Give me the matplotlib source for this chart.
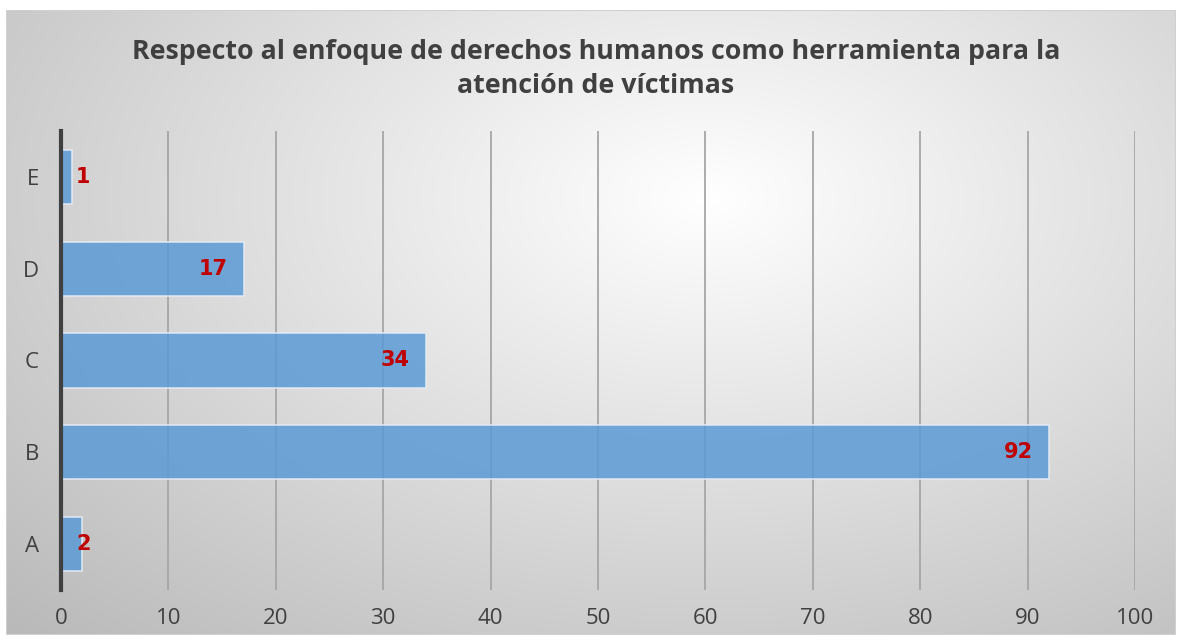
import numpy as np
import matplotlib

matplotlib.use("Agg")
import matplotlib.pyplot as plt
from matplotlib.patches import Rectangle

CATEGORIES = ["A", "B", "C", "D", "E"]
VALUES = [2, 92, 34, 17, 1]
X_TICKS = [0, 10, 20, 30, 40, 50, 60, 70, 80, 90, 100]
TITLE = "Respecto al enfoque de derechos humanos como herramienta para la\natención de víctimas"

BAR_COLOR = "#5b9bd5"
LABEL_COLOR = "#c00000"
TEXT_COLOR = "#404040"
GRID_COLOR = "#a6a6a6"

W, H = 1180, 643


def draw_background(fig):
    # chart frame with a soft radial gradient, like the Office style
    x0, y0, x1, y1 = 6, 10, 1176, 635
    bg = fig.add_axes([x0 / W, 1 - y1 / H, (x1 - x0) / W, (y1 - y0) / H])
    gx, gy = np.meshgrid(np.linspace(0, 1, 400), np.linspace(0, 1, 220))
    r = np.sqrt(((gx - 0.6) / 0.75) ** 2 + ((gy - 0.3) / 0.85) ** 2)
    shade = 1.0 - 0.24 * np.clip(r, 0, 1.15)
    rgb = np.dstack([shade, shade, shade])
    bg.imshow(rgb, extent=(0, 1, 0, 1), origin="upper", aspect="auto")
    bg.add_patch(Rectangle((0, 0), 1, 1, fill=False, edgecolor="#d0d0d0",
                           linewidth=1.5, transform=bg.transAxes))
    bg.set_axis_off()
    return bg


def main():
    fig = plt.figure(figsize=(W / 100, H / 100), dpi=100)
    fig.patch.set_facecolor("white")
    draw_background(fig)

    ax = fig.add_axes([61 / W, 1 - 590 / H, (1135 - 61) / W, (590 - 131) / H])
    ax.set_facecolor("none")

    pos = np.arange(len(CATEGORIES))
    ax.barh(pos, VALUES, height=0.59, color=BAR_COLOR, alpha=0.85,
            edgecolor="#e8eef6", linewidth=1.2, zorder=3)

    for p, v in zip(pos, VALUES):
        if v >= 10:
            ax.text(v - 1.5, p, str(v), ha="right", va="center", color=LABEL_COLOR,
                    fontsize=15, fontweight="bold", family="DejaVu Sans", zorder=4)
        else:
            ax.text(1.4, p, str(v), ha="left", va="center", color=LABEL_COLOR,
                    fontsize=15, fontweight="bold", family="DejaVu Sans", zorder=4)

    ax.set_xlim(0, 100)
    ax.set_ylim(-0.5, len(CATEGORIES) - 0.5)
    ax.set_xticks(X_TICKS)
    ax.set_yticks(pos)
    ax.set_yticklabels(CATEGORIES)
    ax.tick_params(axis="both", length=0, labelsize=16, labelcolor=TEXT_COLOR)
    ax.tick_params(axis="x", pad=13)
    ax.tick_params(axis="y", pad=16)
    for lbl in ax.get_xticklabels() + ax.get_yticklabels():
        lbl.set_family("Open Sans")

    for t in X_TICKS[1:]:
        ax.axvline(t, color=GRID_COLOR, linewidth=1.3, zorder=1)

    for side in ["top", "right", "bottom"]:
        ax.spines[side].set_visible(False)
    ax.spines["left"].set_color(TEXT_COLOR)
    ax.spines["left"].set_linewidth(3)
    ax.spines["left"].set_zorder(5)

    fig.text(596 / W, 1 - 69 / H, TITLE, ha="center", va="center", fontsize=19.3,
             fontweight="bold", color=TEXT_COLOR, family="Open Sans",
             linespacing=1.4)

    fig.savefig("out.png", dpi=100, facecolor="white")
    plt.close(fig)


if __name__ == "__main__":
    main()
